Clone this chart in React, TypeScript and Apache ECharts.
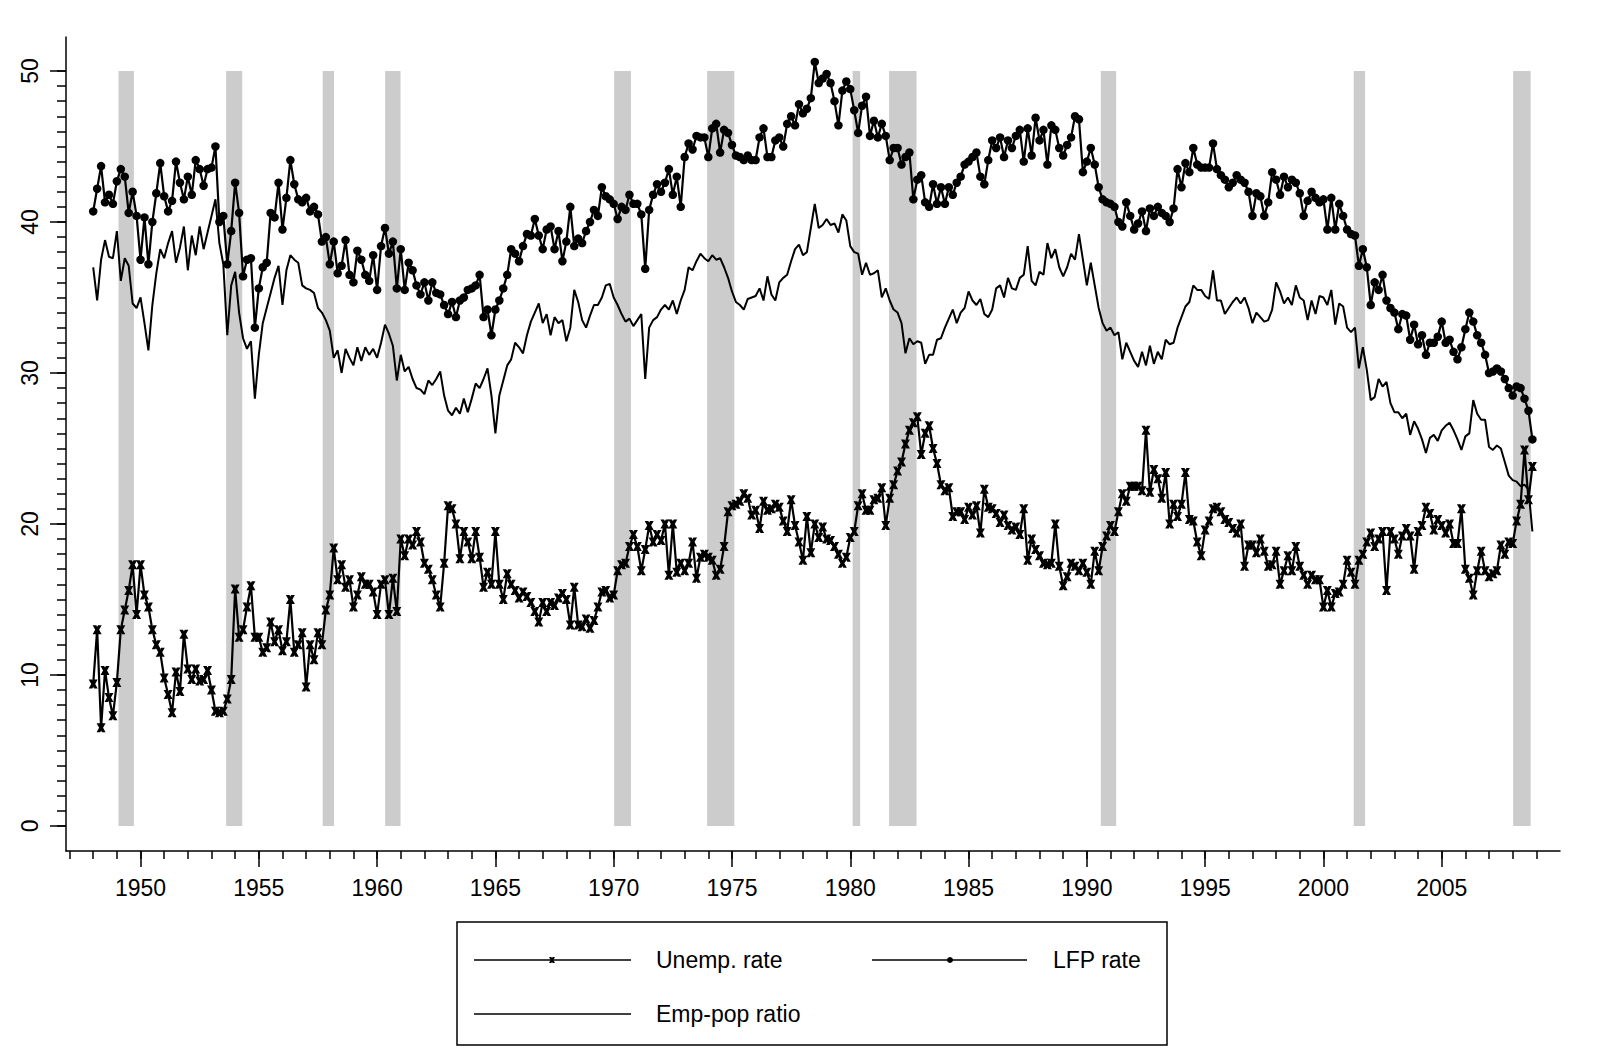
import React, { useEffect, useRef } from "react";
import * as echarts from "echarts";

const FONT = "'Liberation Sans', Arial, Helvetica, sans-serif";

// monthly-ish observations: 6 points per year, starting 1948.0
const START_YEAR = 1948;
const POINTS_PER_YEAR = 6;

const unempRate = [
  9.4, 13.0, 6.5, 10.3, 8.5, 7.3,
  9.5, 13.0, 14.3, 15.6, 17.3, 14.0,
  17.3, 15.3, 14.5, 13.0, 12.0, 11.5,
  9.8, 8.7, 7.5, 10.2, 8.9, 12.7,
  10.4, 9.7, 10.4, 9.6, 9.7, 10.3,
  9.0, 7.6, 7.5, 7.6, 8.4, 9.7,
  15.7, 12.5, 13.0, 14.5, 15.9, 12.5,
  12.5, 11.5, 11.8, 13.5, 12.2, 13.0,
  11.6, 12.2, 15.0, 11.5, 12.0, 12.8,
  9.2, 12.0, 11.0, 12.8, 12.0, 14.3,
  15.3, 18.4, 16.3, 17.3, 15.8, 16.3,
  14.5, 15.3, 16.5, 16.0, 16.0, 15.5,
  14.0, 16.0, 16.3, 14.0, 16.4, 14.2,
  19.0, 17.9, 19.0, 18.6, 19.5, 18.8,
  17.4, 17.0, 16.3, 15.3, 14.5, 17.4,
  21.2, 21.0, 20.0, 17.7, 19.5, 18.8,
  17.7, 19.5, 17.8, 15.8, 16.8, 16.0,
  19.5, 16.0, 15.0, 16.7, 16.0, 15.6,
  15.1, 15.5, 15.2, 14.8, 14.2, 13.5,
  14.8, 14.2, 14.8, 14.6, 15.1, 15.4,
  15.0, 13.3, 15.8, 13.3, 13.2, 13.7,
  13.1, 13.6, 14.5, 15.5, 15.6, 15.1,
  15.3, 16.9, 17.3, 17.4, 18.5, 19.3,
  18.5, 16.9, 18.3, 19.9, 18.8, 19.3,
  18.9, 20.0, 16.6, 20.0, 16.8, 17.4,
  16.9, 17.4, 18.8, 16.4, 17.8, 18.0,
  17.8, 17.6, 16.6, 17.0, 18.5, 20.8,
  21.2, 21.3, 21.5, 22.0, 21.7, 20.6,
  20.9, 19.7, 21.5, 20.9, 21.0, 21.3,
  21.1, 20.2, 19.5, 21.6, 19.9, 18.8,
  17.6, 20.5, 18.1, 20.0, 19.1, 19.8,
  19.0, 18.9, 18.5, 18.0, 17.4, 17.8,
  19.1, 19.5, 21.2, 22.0, 20.9, 20.9,
  21.6, 21.7, 22.4, 19.9, 21.7, 22.6,
  23.5, 24.1, 25.3, 26.2, 26.7, 27.1,
  24.6, 26.0, 26.5, 25.0, 24.0, 22.6,
  22.2, 22.4, 20.5, 20.8, 20.8, 20.3,
  21.1, 20.6, 21.2, 19.4, 22.3, 21.1,
  21.0, 20.7, 20.1, 20.6, 19.9, 19.6,
  19.8, 19.3, 21.0, 17.6, 19.0, 18.3,
  17.9, 17.4, 17.3, 17.4, 20.0, 17.2,
  15.9, 16.5, 17.4, 17.2, 16.9, 17.4,
  16.8, 16.0, 18.2, 16.9, 18.5, 19.2,
  19.9, 19.5, 20.8, 22.0, 21.5, 22.5,
  22.5, 22.5, 22.2, 26.2, 22.1, 23.6,
  23.0, 21.7, 23.4, 20.0, 21.3, 20.5,
  21.3, 23.4, 20.3, 20.2, 18.8, 17.9,
  19.6, 20.2, 21.0, 21.1, 20.8, 20.3,
  20.1, 19.7, 19.4, 20.0, 17.2, 18.6,
  18.6, 18.1, 19.0, 18.2, 17.2, 17.3,
  18.2, 16.0, 16.9, 17.9, 16.9, 18.5,
  17.2, 16.6, 16.0, 16.6, 16.3, 16.3,
  14.5, 15.6, 14.5, 15.4, 15.5, 16.0,
  17.6, 16.8, 16.0, 17.6, 18.0, 18.8,
  19.4, 18.5, 19.0, 19.5, 15.6, 19.5,
  19.0, 18.0, 19.2, 19.7, 19.2, 17.0,
  19.5, 19.9, 21.1, 20.7, 19.6, 20.3,
  19.9, 19.4, 20.0, 18.7, 18.7, 21.0,
  17.0, 16.4, 15.3, 16.9, 18.2, 16.9,
  16.5, 16.7, 16.9, 18.6, 18.0, 18.8,
  18.7, 20.2, 21.3, 24.9, 21.6, 23.8,
];

const lfpRate = [
  40.7, 42.2, 43.7, 41.3, 41.8, 41.2,
  42.7, 43.5, 43.0, 40.6, 42.0, 40.4,
  37.5, 40.3, 37.2, 40.0, 41.9, 43.9,
  41.7, 40.7, 41.4, 44.0, 42.6, 41.5,
  43.0, 41.8, 44.1, 43.5, 42.4, 43.5,
  43.6, 45.0, 40.0, 40.4, 37.2, 39.4,
  42.6, 40.6, 36.4, 37.5, 37.6, 33.0,
  35.6, 37.0, 37.3, 40.6, 40.3, 42.6,
  39.5, 41.6, 44.1, 42.5, 41.5, 41.3,
  41.6, 40.7, 41.0, 40.5, 38.7, 39.0,
  37.2, 38.7, 36.6, 37.1, 38.8, 36.5,
  36.0, 38.1, 37.5, 36.5, 36.1, 37.8,
  35.5, 38.4, 39.6, 37.9, 38.7, 35.6,
  38.2, 35.5, 37.3, 36.8, 35.8, 35.2,
  36.0, 34.8, 36.0, 35.3, 35.2, 34.5,
  33.9, 34.7, 33.7, 34.8, 35.0, 35.5,
  35.6, 35.8, 36.5, 33.7, 34.2, 32.5,
  34.2, 34.8, 35.6, 36.5, 38.2, 37.9,
  37.4, 38.4, 39.2, 39.1, 40.2, 39.1,
  38.2, 39.5, 39.7, 38.2, 39.4, 37.4,
  38.7, 41.0, 38.4, 38.9, 38.6, 39.4,
  40.0, 40.8, 40.4, 42.3, 41.7, 41.5,
  41.2, 40.2, 41.0, 40.8, 41.8, 41.2,
  41.2, 40.5, 36.9, 40.8, 41.8, 42.5,
  42.0, 42.6, 43.5, 41.8, 43.0, 41.0,
  44.3, 45.2, 44.8, 45.7, 45.6, 45.6,
  44.3, 46.2, 46.5, 44.6, 46.1, 45.9,
  45.1, 44.4, 44.3, 44.1, 44.4, 44.1,
  44.1, 45.6, 46.2, 44.3, 44.3, 45.4,
  45.6, 45.0, 46.5, 47.0, 46.4, 47.8,
  47.2, 47.5, 48.2, 50.6, 49.2, 49.5,
  49.8, 49.2, 48.0, 46.4, 48.7, 49.3,
  48.8, 47.4, 45.9, 47.7, 48.3, 45.7,
  46.7, 45.6, 46.5, 45.7, 44.1, 44.9,
  44.9, 43.8, 44.3, 44.6, 41.5, 42.8,
  43.1, 41.3, 41.0, 42.5, 41.2, 42.3,
  41.2, 42.3, 41.8, 42.6, 43.0, 43.8,
  44.0, 44.3, 44.6, 43.0, 42.5, 44.1,
  45.4, 44.9, 45.6, 44.3, 45.4, 44.9,
  45.7, 46.1, 44.0, 46.2, 44.4, 46.9,
  45.4, 46.1, 43.8, 46.4, 46.1, 44.9,
  44.4, 45.1, 45.6, 47.0, 46.8, 43.3,
  44.0, 44.9, 43.8, 42.3, 41.5, 41.3,
  41.2, 41.0, 40.0, 39.7, 41.3, 40.4,
  39.5, 39.9, 40.7, 39.4, 40.9, 40.4,
  41.0, 40.6, 40.4, 40.0, 40.9, 43.5,
  42.3, 43.9, 43.3, 44.9, 43.8, 43.6,
  43.6, 43.6, 45.2, 43.5, 43.1, 42.8,
  42.3, 42.6, 43.1, 42.8, 42.6, 42.0,
  40.4, 41.9, 41.7, 40.4, 41.3, 43.3,
  42.8, 41.8, 43.0, 42.3, 42.8, 42.6,
  41.9, 40.4, 41.4, 42.0, 41.6, 41.3,
  41.5, 39.5, 41.6, 39.5, 41.2, 40.4,
  39.5, 39.2, 39.1, 37.1, 38.2, 37.0,
  34.5, 36.0, 35.5, 36.5, 34.8, 34.3,
  34.0, 32.9, 33.9, 33.8, 32.2, 33.2,
  31.9, 32.5, 31.2, 32.0, 32.0, 32.4,
  33.4, 32.0, 32.2, 31.4, 30.9, 31.7,
  32.9, 34.0, 33.4, 32.5, 32.0, 31.2,
  30.0, 30.1, 30.3, 30.1, 29.6, 29.0,
  28.5, 29.1, 29.0, 28.3, 27.5, 25.6,
];

const empPopRatio = [
  37.0, 34.8, 37.5, 38.8, 37.7, 37.6,
  39.4, 36.1, 37.6, 37.1, 34.6, 34.3,
  35.0, 33.3, 31.5, 34.5, 36.6, 38.2,
  37.6, 38.6, 39.4, 37.3, 38.3, 39.7,
  36.8, 39.1, 37.8, 39.7, 38.2, 39.3,
  40.4, 41.5, 38.6, 37.2, 32.5, 35.8,
  36.7, 34.0, 32.3, 31.6, 32.1, 28.3,
  31.2, 33.3, 34.3, 35.3, 36.3, 37.1,
  34.5, 36.8, 37.8, 37.5, 37.3, 35.8,
  35.6, 35.5, 35.3, 34.3, 34.0, 33.5,
  32.8, 31.0, 31.5, 30.0, 31.6, 31.0,
  30.5, 31.7, 30.8, 31.7, 31.2, 31.6,
  31.0, 32.0, 33.2, 32.6, 31.8, 29.5,
  31.2, 30.1, 30.4, 29.6, 29.0, 28.9,
  28.6, 29.5, 29.2, 29.6, 30.1, 28.5,
  27.5, 27.2, 27.7, 27.3, 28.3, 27.4,
  28.3, 29.3, 29.0, 29.6, 30.3, 28.5,
  26.0, 28.5, 29.5, 30.5, 30.9, 32.0,
  31.7, 31.3, 32.5, 33.4, 34.0, 34.6,
  33.3, 33.9, 32.5, 33.7, 33.3, 33.5,
  32.1, 33.0, 35.5, 34.7, 33.5, 33.0,
  33.8, 34.5, 34.5, 35.0, 35.8, 35.9,
  35.0, 34.5, 33.9, 33.4, 33.6, 33.1,
  33.5, 33.9, 29.6, 33.0, 33.5, 33.7,
  34.2, 34.5, 34.2, 34.8, 33.9, 34.8,
  35.5, 37.0, 36.8, 37.4, 37.9, 37.6,
  37.4, 37.8, 37.5, 37.6, 37.0, 36.3,
  35.4, 34.7, 34.5, 34.2, 34.9, 35.0,
  35.1, 35.6, 34.8, 36.4, 35.2, 34.8,
  36.0, 36.3, 36.5, 37.4, 38.2, 38.5,
  37.8, 38.0, 39.6, 41.2, 39.6, 39.8,
  40.2, 39.8, 39.9, 39.3, 40.5, 40.1,
  38.4, 38.0, 37.9, 36.5, 37.3, 36.5,
  36.6, 36.8, 35.0, 35.6, 34.8, 34.2,
  34.0, 33.3, 31.3, 32.3, 31.9, 32.1,
  32.0, 30.6, 31.2, 31.2, 32.2, 32.3,
  33.0, 33.6, 34.2, 33.3, 34.0, 34.3,
  35.4, 34.8, 34.5, 34.9, 33.9, 33.7,
  34.2, 35.6, 35.8, 35.0, 36.3, 35.6,
  35.5, 36.3, 36.5, 38.4, 36.1, 35.8,
  36.7, 36.5, 38.6, 37.6, 38.2, 37.0,
  36.4, 37.0, 37.9, 37.5, 39.2, 37.5,
  35.8, 37.3, 35.8, 34.3, 33.3, 32.8,
  33.0, 32.5, 32.7, 30.9, 32.0, 31.4,
  30.8, 30.4, 31.4, 30.5, 31.8, 30.6,
  31.4, 30.9, 32.2, 31.9, 32.0, 33.0,
  33.7, 34.4, 34.7, 35.8, 35.5, 35.5,
  35.1, 34.9, 36.8, 34.8, 34.8, 33.9,
  34.3, 34.7, 35.0, 34.6, 35.0, 34.3,
  33.3, 34.0, 33.7, 33.4, 33.5, 34.2,
  36.0, 35.4, 34.6, 35.0, 34.5, 35.8,
  35.0, 34.8, 33.5, 34.8, 33.9, 35.1,
  35.0, 34.5, 35.5, 33.2, 34.6, 34.4,
  33.0, 32.7, 33.0, 30.3, 31.7, 30.2,
  28.2, 28.4, 29.6, 29.1, 29.4, 28.0,
  27.4, 27.4, 27.0, 27.3, 25.9, 26.8,
  26.3, 25.6, 24.7, 25.7, 25.9, 25.5,
  26.2, 26.5, 26.7, 26.2, 25.6, 24.9,
  25.8, 26.0, 28.2, 27.3, 26.9, 26.9,
  25.1, 24.9, 25.2, 25.0, 24.1, 23.2,
  22.9, 22.8, 22.5, 22.6, 22.3, 19.5,
];

// recession shading (start / end, in years)
const recessionStart = [1949.07, 1953.62, 1957.70, 1960.34, 1970.02, 1973.95, 1980.10, 1981.64, 1990.59, 2001.28, 2008.02];
const recessionEnd = [1949.72, 1954.30, 1958.18, 1960.99, 1970.73, 1975.10, 1980.42, 1982.80, 1991.24, 2001.76, 2008.76];
const SHADE_BOTTOM = 0;
const SHADE_TOP = 50;

// axis ticks
const xMajorTicks = [1950, 1955, 1960, 1965, 1970, 1975, 1980, 1985, 1990, 1995, 2000, 2005];
const xMinorTicks = Array.from({ length: 63 }, (_, i) => 1947 + i);
const yMajorTicks = [0, 10, 20, 30, 40, 50];
const yMinorTicks = Array.from({ length: 51 }, (_, i) => i);

const X_MIN = 1946.85;
const X_MAX = 2010.0;
const Y_MIN = -1.66;
const Y_MAX = 52.25;

const toPairs = (arr: number[]) => arr.map((v, i) => [START_YEAR + i / POINTS_PER_YEAR, v]);

const X_SYMBOL = "path://M0,0L4,0L5,1.8L6,0L10,0L7.2,5L10,10L6,10L5,8.2L4,10L0,10L2.8,5Z";
const X_POLY = [[0, 0], [4, 0], [5, 1.8], [6, 0], [10, 0], [7.2, 5], [10, 10], [6, 10], [5, 8.2], [4, 10], [0, 10], [2.8, 5]];

export default function App() {
  const ref = useRef<HTMLDivElement>(null);
  useEffect(() => {
    if (!ref.current) return;
    const chart = echarts.init(ref.current, null, { renderer: "svg" });
    const black = "#000";
    const tickStyle = { color: black, width: 1.5 };

    const legendY1 = 960;
    const legendY2 = 1014;
    const xMark = (cx: number, cy: number, s: number) =>
      X_POLY.map(([px, py]) => [cx + (px - 5) * s, cy + (py - 5) * s]);

    const option: any = {
      animation: false,
      backgroundColor: "#fff",
      grid: { left: 66, top: 37, width: 1494, height: 814, containLabel: false },
      xAxis: [
        {
          type: "value",
          min: X_MIN,
          max: X_MAX,
          position: "bottom",
          axisLine: { show: true, onZero: false, lineStyle: tickStyle },
          axisTick: { show: true, customValues: xMajorTicks, length: 16, lineStyle: tickStyle },
          axisLabel: {
            show: true,
            customValues: xMajorTicks,
            fontSize: 23,
            fontFamily: FONT,
            color: black,
            margin: 25,
            formatter: (v: number) => String(v),
          },
          splitLine: { show: false },
        },
        {
          type: "value",
          min: X_MIN,
          max: X_MAX,
          position: "bottom",
          axisLine: { show: false, onZero: false },
          axisTick: { show: true, customValues: xMinorTicks, length: 8, lineStyle: tickStyle },
          axisLabel: { show: false },
          splitLine: { show: false },
        },
      ],
      yAxis: [
        {
          type: "value",
          min: Y_MIN,
          max: Y_MAX,
          position: "left",
          axisLine: { show: true, onZero: false, lineStyle: tickStyle },
          axisTick: { show: true, customValues: yMajorTicks, length: 16, lineStyle: tickStyle },
          axisLabel: {
            show: true,
            customValues: yMajorTicks,
            rotate: 90,
            fontSize: 23,
            fontFamily: FONT,
            color: black,
            margin: 25,
            formatter: (v: number) => String(v),
          },
          splitLine: { show: false },
        },
        {
          type: "value",
          min: Y_MIN,
          max: Y_MAX,
          position: "left",
          axisLine: { show: false, onZero: false },
          axisTick: { show: true, customValues: yMinorTicks, length: 9, lineStyle: tickStyle },
          axisLabel: { show: false },
          splitLine: { show: false },
        },
      ],
      series: [
        {
          type: "custom",
          xAxisIndex: 0,
          yAxisIndex: 0,
          silent: true,
          z: 1,
          data: recessionStart.map((s, i) => [s, recessionEnd[i]]),
          encode: { x: [0, 1] },
          renderItem: (params: any, api: any) => {
            const p0 = api.coord([api.value(0), SHADE_TOP]);
            const p1 = api.coord([api.value(1), SHADE_BOTTOM]);
            return {
              type: "rect",
              shape: { x: p0[0], y: p0[1], width: p1[0] - p0[0], height: p1[1] - p0[1] },
              style: { fill: "#cccccc" },
            };
          },
        },
        {
          name: "Emp-pop ratio",
          type: "line",
          xAxisIndex: 0,
          yAxisIndex: 0,
          data: toPairs(empPopRatio),
          symbol: "none",
          showSymbol: false,
          lineStyle: { color: black, width: 2 },
          z: 3,
          silent: true,
        },
        {
          name: "LFP rate",
          type: "line",
          xAxisIndex: 0,
          yAxisIndex: 0,
          data: toPairs(lfpRate),
          symbol: "circle",
          symbolSize: 8.5,
          showSymbol: true,
          itemStyle: { color: black },
          lineStyle: { color: black, width: 2.2 },
          z: 4,
          silent: true,
        },
        {
          name: "Unemp. rate",
          type: "line",
          xAxisIndex: 0,
          yAxisIndex: 0,
          data: toPairs(unempRate),
          symbol: X_SYMBOL,
          symbolSize: 9,
          showSymbol: true,
          itemStyle: { color: black },
          lineStyle: { color: black, width: 2.2 },
          z: 4,
          silent: true,
        },
      ],
      graphic: [
        {
          type: "rect",
          shape: { x: 457, y: 922, width: 710, height: 123 },
          style: { fill: "#fff", stroke: black, lineWidth: 1.5 },
        },
        { type: "line", shape: { x1: 474, y1: legendY1, x2: 631, y2: legendY1 }, style: { stroke: black, lineWidth: 1.5 } },
        { type: "polygon", shape: { points: xMark(552, legendY1, 0.6) }, style: { fill: black } },
        {
          type: "text",
          x: 656,
          y: legendY1,
          style: { text: "Unemp. rate", fontSize: 23, fontFamily: FONT, fill: black, verticalAlign: "middle", align: "left" },
        },
        { type: "line", shape: { x1: 872, y1: legendY1, x2: 1027, y2: legendY1 }, style: { stroke: black, lineWidth: 1.5 } },
        { type: "circle", shape: { cx: 950, cy: legendY1, r: 3 }, style: { fill: black } },
        {
          type: "text",
          x: 1053,
          y: legendY1,
          style: { text: "LFP rate", fontSize: 23, fontFamily: FONT, fill: black, verticalAlign: "middle", align: "left" },
        },
        { type: "line", shape: { x1: 474, y1: legendY2, x2: 631, y2: legendY2 }, style: { stroke: black, lineWidth: 1.5 } },
        {
          type: "text",
          x: 656,
          y: legendY2,
          style: { text: "Emp-pop ratio", fontSize: 23, fontFamily: FONT, fill: black, verticalAlign: "middle", align: "left" },
        },
      ],
    };
    chart.setOption(option);
    return () => chart.dispose();
  }, []);

  return (
    <div
      ref={ref}
      style={{ position: "absolute", left: 0, top: 0, width: 1600, height: 1050, background: "#fff" }}
    />
  );
}
